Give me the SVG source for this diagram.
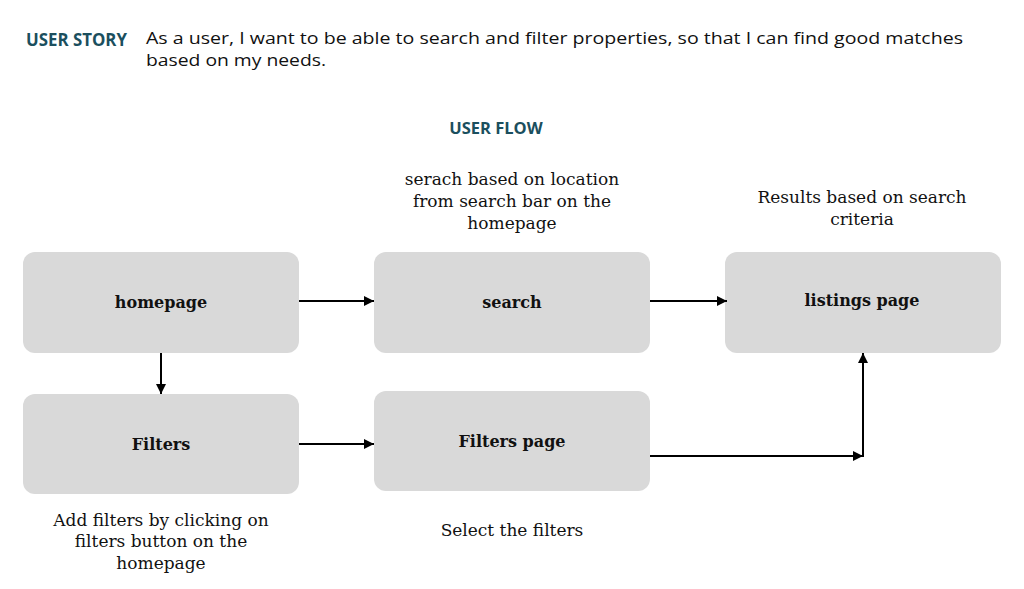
<svg xmlns="http://www.w3.org/2000/svg" width="1024" height="589" viewBox="0 0 1024 589">
<defs>
<style>
.hdr{font-family:"Open Sans",sans-serif;font-weight:700;fill:#1b4f5e}
.story{font-family:"Open Sans",sans-serif;font-size:16px;fill:#111}
.box{fill:#d9d9d9}
.lbl{font-family:"DejaVu Serif",serif;font-size:16px;font-weight:700;fill:#111;text-anchor:middle}
.note{font-family:"DejaVu Serif",serif;font-size:17px;fill:#111;text-anchor:middle}
.conn{stroke:#000;stroke-width:2;fill:none;marker-end:url(#ah)}
</style>
<marker id="ah" viewBox="0 0 10 10" refX="10" refY="5" markerWidth="5" markerHeight="5" orient="auto" markerUnits="strokeWidth">
<path d="M0,0 L10,5 L0,10 z" fill="#000"/>
</marker>
</defs>
<rect width="1024" height="589" fill="#fff"/>
<text class="hdr" x="26" y="46" font-size="17" textLength="101" lengthAdjust="spacingAndGlyphs">USER STORY</text>
<text class="story" x="146" y="44" textLength="817" lengthAdjust="spacingAndGlyphs">As a user, I want to be able to search and filter properties, so that I can find good matches</text>
<text class="story" x="146" y="66" textLength="180" lengthAdjust="spacingAndGlyphs">based on my needs.</text>
<text class="hdr" x="496" y="134" font-size="16.5" text-anchor="middle">USER FLOW</text>
<text class="note" x="512" y="185">serach based on location</text>
<text class="note" x="512" y="207">from search bar on the</text>
<text class="note" x="512" y="229">homepage</text>
<text class="note" x="862" y="203">Results based on search</text>
<text class="note" x="862" y="225">criteria</text>
<text class="note" x="161" y="526">Add filters by clicking on</text>
<text class="note" x="161" y="547">filters button on the</text>
<text class="note" x="161" y="569">homepage</text>
<text class="note" x="512" y="536">Select the filters</text>
<g id="homepage"><rect class="box" x="23" y="252" width="276" height="101" rx="12"/><text class="lbl" x="161" y="308">homepage</text></g>
<g id="search"><rect class="box" x="374" y="252" width="276" height="101" rx="12"/><text class="lbl" x="512" y="308">search</text></g>
<g id="listings"><rect class="box" x="725" y="252" width="276" height="101" rx="12"/><text class="lbl" x="862" y="306">listings page</text></g>
<g id="filters"><rect class="box" x="23" y="394" width="276" height="100" rx="12"/><text class="lbl" x="161" y="450">Filters</text></g>
<g id="filterspage"><rect class="box" x="374" y="391" width="276" height="100" rx="12"/><text class="lbl" x="512" y="447">Filters page</text></g>
<g id="connectors">
<line class="conn" x1="299" y1="301" x2="374" y2="301"/>
<line class="conn" x1="650" y1="301" x2="727" y2="301"/>
<line class="conn" x1="161" y1="353" x2="161" y2="394"/>
<line class="conn" x1="299" y1="444" x2="374" y2="444"/>
<line class="conn" x1="650" y1="456" x2="863" y2="456"/>
<line class="conn" x1="863" y1="457" x2="863" y2="353"/>
</g>
</svg>
